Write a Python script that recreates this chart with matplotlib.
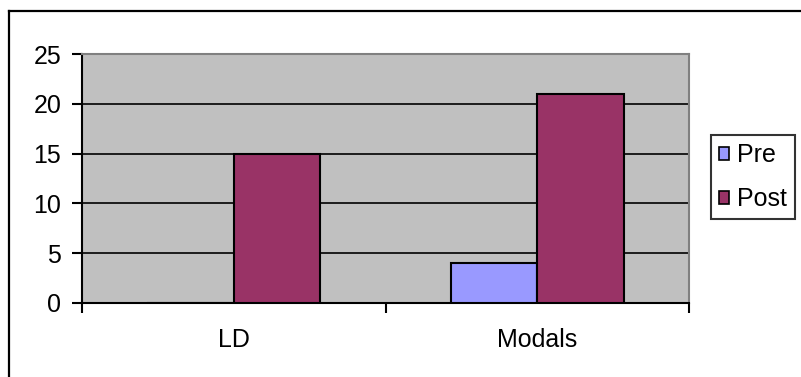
import numpy as np
import matplotlib.pyplot as plt
from matplotlib.lines import Line2D

# lesson counts before and after
categories = ["LD", "Modals"]
pre = [0, 4]
post = [15, 21]
series_names = ["Pre", "Post"]

plt.rcParams['font.family'] = ['Liberation Sans', 'DejaVu Sans']

fig = plt.figure(figsize=(8.01, 3.77), dpi=100)
W, H = 801.0, 377.0
ax = fig.add_axes([82 / W, 1 - 303 / H, (689 - 82) / W, (303 - 54) / H])
ax.set_facecolor('#C0C0C0')

x = np.arange(len(categories))
w = 1 / 3.5
b1 = ax.bar(x - w / 2, pre, w, color='#9999FF', edgecolor='black', linewidth=1.5, zorder=3, label=series_names[0])
b2 = ax.bar(x + w / 2, post, w, color='#993366', edgecolor='black', linewidth=1.5, zorder=3, label=series_names[1])

ax.set_ylim(0, 25)
ax.set_xlim(-0.5, len(categories) - 0.5)
ax.set_yticks(np.arange(0, 26, 5))
ax.yaxis.grid(True, color='black', linewidth=1.2, zorder=1)
ax.set_axisbelow(True)

# category boundaries as ticks, names centred between them
ax.set_xticks(np.arange(-0.5, len(categories), 1.0))
ax.set_xticklabels([])
ax.set_xticks(x, minor=True)
ax.set_xticklabels(categories, minor=True)
ax.tick_params(axis='x', which='major', length=7, width=1.5, direction='out')
ax.tick_params(axis='x', which='minor', length=0, pad=18, labelsize=18)
ax.tick_params(axis='y', length=7, width=1.5, direction='out', pad=8, labelsize=18)

for s in ['left', 'bottom']:
    ax.spines[s].set_color('black')
    ax.spines[s].set_linewidth(1.5)
for s in ['top', 'right']:
    ax.spines[s].set_color('#808080')
    ax.spines[s].set_linewidth(1.5)

leg = ax.legend(loc='upper left', bbox_to_anchor=(711 / W, 1 - 135 / H),
                bbox_transform=fig.transFigure, fontsize=18, frameon=True,
                fancybox=False, shadow=False, borderaxespad=0,
                handlelength=0.4, handleheight=0.45, handletextpad=0.3,
                labelspacing=0.8, borderpad=0.33)
leg.get_frame().set_edgecolor('black')
leg.get_frame().set_linewidth(1.5)
for p in leg.get_patches():
    p.set_linewidth(1.2)

# chart border (top and left edges fall inside the image)
fig.add_artist(Line2D([9 / W, 9 / W], [0, 1 - 11 / H], color='black', linewidth=1.6, transform=fig.transFigure))
fig.add_artist(Line2D([9 / W, 1], [1 - 11 / H, 1 - 11 / H], color='black', linewidth=1.6, transform=fig.transFigure))

fig.savefig('out.png', dpi=100)
